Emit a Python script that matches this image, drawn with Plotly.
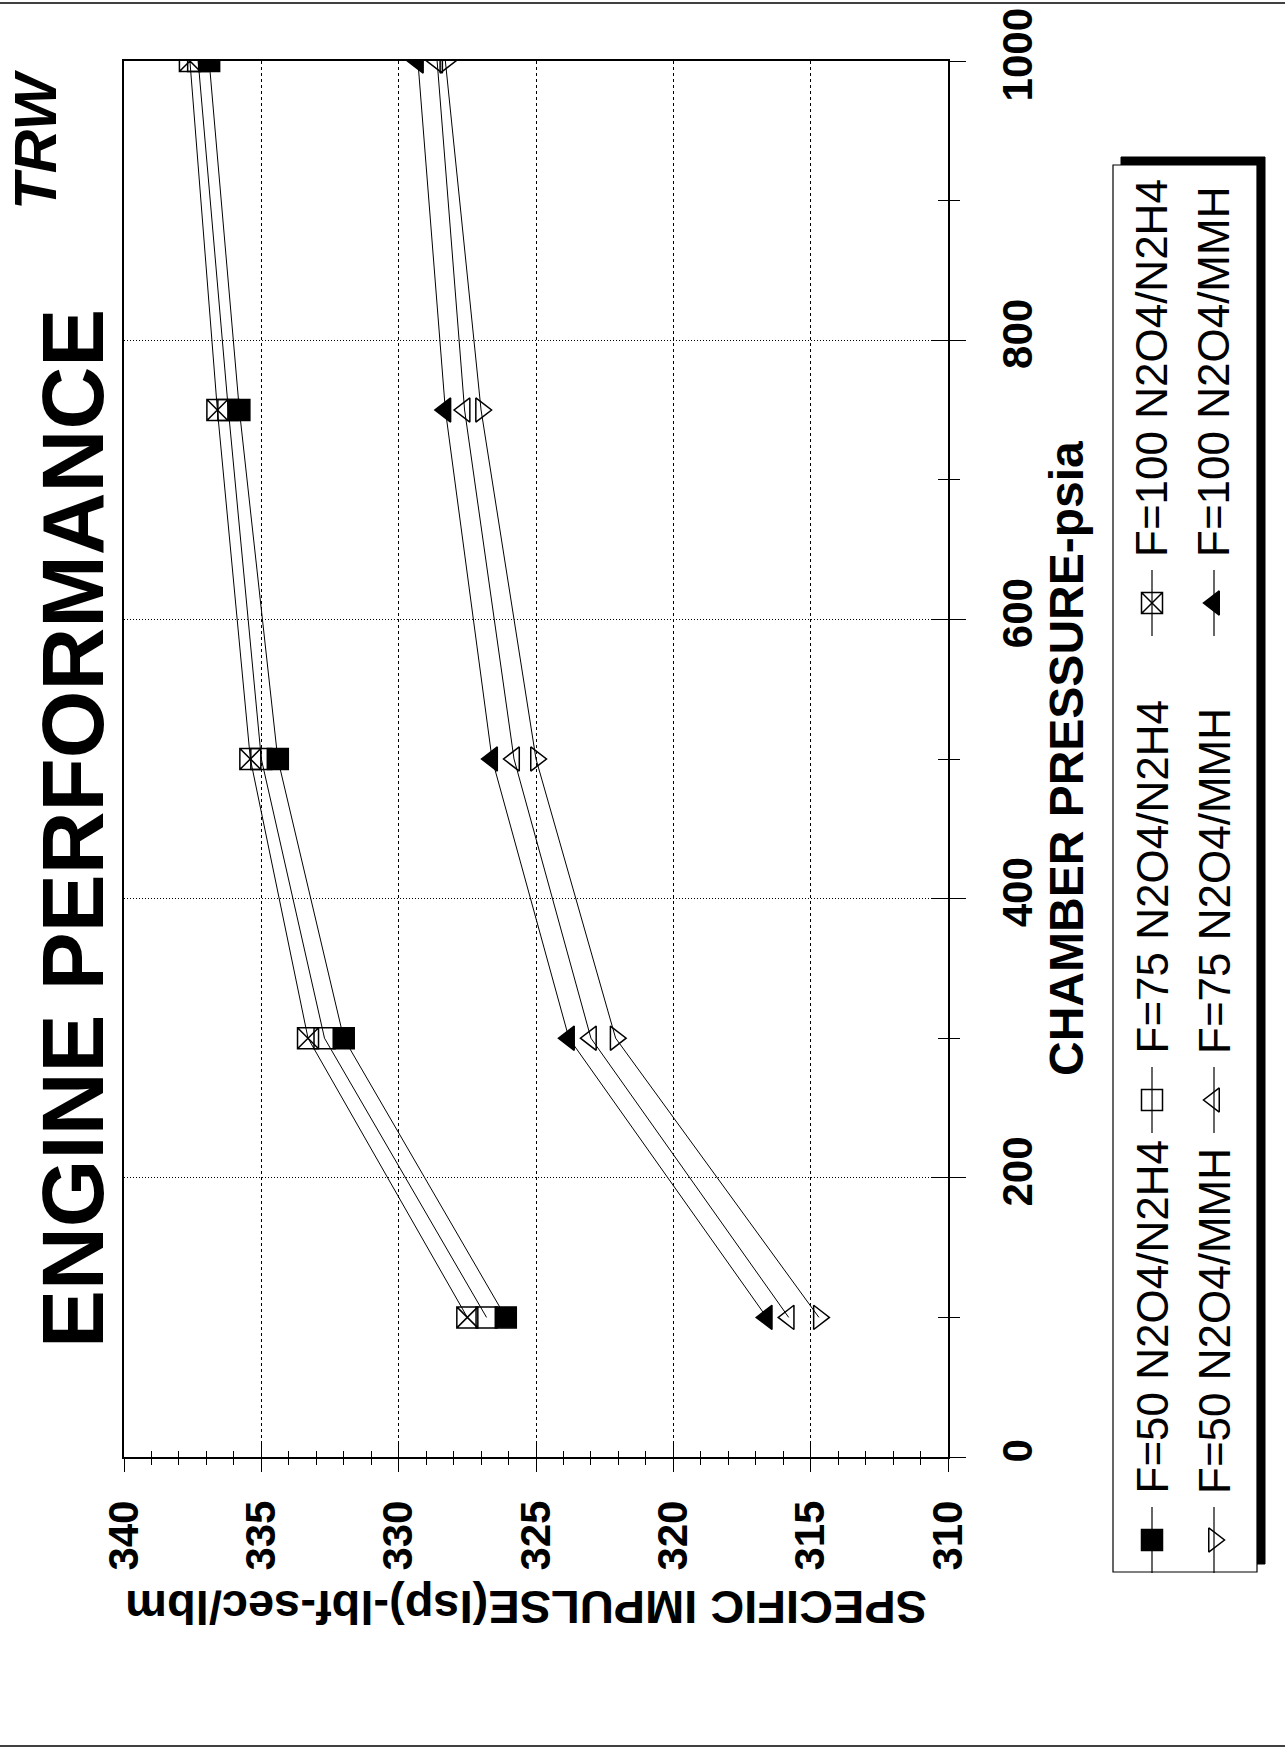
import plotly.graph_objects as go

# ---------------- data ----------------
pressure = [100, 300, 500, 750, 1000]  # chamber pressure, psia
isp_f50_n2h4 = [326.1, 332.0, 334.4, 335.8, 336.9]
isp_f75_n2h4 = [326.8, 332.7, 335.0, 336.2, 337.3]
isp_f100_n2h4 = [327.5, 333.3, 335.4, 336.6, 337.6]
isp_f50_mmh = [314.7, 322.1, 325.0, 327.0, 328.3]
isp_f75_mmh = [315.8, 323.0, 325.8, 327.6, 328.6]
isp_f100_mmh = [316.6, 323.8, 326.6, 328.3, 329.3]

series_names = ["F=50 N2O4/N2H4", "F=75 N2O4/N2H4", "F=100 N2O4/N2H4",
                "F=50 N2O4/MMH", "F=75 N2O4/MMH", "F=100 N2O4/MMH"]
series_values = [isp_f50_n2h4, isp_f75_n2h4, isp_f100_n2h4,
                 isp_f50_mmh, isp_f75_mmh, isp_f100_mmh]
# page is rotated 90 deg CCW, so the triangles rotate too
series_symbols = ["square", "square-open", "square-x-open",
                  "triangle-right-open", "triangle-left-open", "triangle-left"]

isp_ticks = [340, 335, 330, 325, 320, 315, 310]
pressure_ticks = [0, 200, 400, 600, 800, 1000]

# ---------------- layout constants (page pixels) ----------------
W, H = 1285, 1750
PL, PR, PT, PB = 124, 948, 61, 1457  # plot area on the page


def px(X):
    return X / W


def py(Y):
    return 1 - Y / H


FONT = "Liberation Sans, Arial, sans-serif"

fig = go.Figure()

for name, vals, sym in zip(series_names, series_values, series_symbols):
    fig.add_trace(go.Scatter(
        x=vals, y=pressure, mode="lines+markers", name=name,
        line=dict(color="black", width=1),
        marker=dict(symbol=sym, size=21, color="black",
                    line=dict(color="black", width=1.5)),
        showlegend=False, xaxis="x", yaxis="y"))

# empty traces so the overlay (crossing tick) axes exist
fig.add_trace(go.Scatter(x=[None], y=[None], xaxis="x3", yaxis="y", showlegend=False, hoverinfo="skip"))
fig.add_trace(go.Scatter(x=[None], y=[None], xaxis="x", yaxis="y3", showlegend=False, hoverinfo="skip"))

# legend samples drawn in a pixel-space overlay
leg_col_x = [1152, 1214]
leg_row_y = [1540, 1100, 603]
for i, (name, sym) in enumerate(zip(series_names, series_symbols)):
    cx = leg_col_x[i // 3]
    cy = leg_row_y[i % 3]
    fig.add_trace(go.Scatter(
        x=[cx, cx], y=[cy + 33, cy - 33], mode="lines",
        line=dict(color="black", width=1.2),
        showlegend=False, hoverinfo="skip", xaxis="x2", yaxis="y2"))
    fig.add_trace(go.Scatter(
        x=[cx], y=[cy], mode="markers",
        marker=dict(symbol=sym, size=21, color="black", opacity=1,
                    line=dict(color="black", width=1.5)),
        showlegend=False, hoverinfo="skip", xaxis="x2", yaxis="y2"))
    fig.add_annotation(text=name, x=px(cx), y=py(cy - 44), xref="paper", yref="paper",
                       xanchor="center", yanchor="bottom", textangle=-90, showarrow=False,
                       font=dict(family=FONT, size=44, color="black"))

xdom = [px(PL), px(PR)]
ydom = [py(PB), py(PT)]

tickfont = dict(family=FONT, size=42, color="black", weight="bold")

fig.update_layout(
    template="none",
    width=W, height=H, autosize=False,
    margin=dict(l=0, r=0, t=0, b=0, pad=0),
    paper_bgcolor="white", plot_bgcolor="rgba(0,0,0,0)",
    xaxis=dict(domain=xdom, range=[340, 310], anchor="y", side="bottom",
               tickvals=isp_ticks, tickangle=-90, tickfont=tickfont,
               ticks="outside", ticklen=13, tickwidth=1.2, tickcolor="black",
               ticklabelstandoff=12, automargin=False, ticklabeloverflow="allow",
               minor=dict(ticks="outside", ticklen=6, dtick=1, tick0=310,
                          tickcolor="black", tickwidth=1, showgrid=False),
               showgrid=True, gridcolor="black", gridwidth=1, griddash="3px,3px",
               showline=True, linecolor="black", linewidth=1.5, mirror=True,
               zeroline=False, fixedrange=True),
    yaxis=dict(domain=ydom, range=[0, 1000], anchor="x", side="right",
               tickvals=pressure_ticks, tickangle=-90, tickfont=tickfont,
               ticks="outside", ticklen=16, tickwidth=1.2, tickcolor="black",
               ticklabelstandoff=16, automargin=False, ticklabeloverflow="allow",
               minor=dict(ticks="outside", ticklen=10, dtick=100, tick0=0,
                          tickcolor="black", tickwidth=1, showgrid=False),
               showgrid=True, gridcolor="black", gridwidth=1, griddash="1px,2px",
               showline=True, linecolor="black", linewidth=1.5, mirror=True,
               zeroline=False, fixedrange=True),
    xaxis3=dict(overlaying="x", range=[340, 310], anchor="y", side="bottom",
                tickvals=isp_ticks, showticklabels=False, automargin=False,
                ticks="inside", ticklen=13, tickwidth=1.2, tickcolor="black",
                minor=dict(ticks="inside", ticklen=6, dtick=1, tick0=310,
                           tickcolor="black", tickwidth=1, showgrid=False),
                showgrid=False, showline=False, zeroline=False, fixedrange=True),
    yaxis3=dict(overlaying="y", range=[0, 1000], anchor="x", side="right",
                tickvals=pressure_ticks, showticklabels=False, automargin=False,
                ticks="inside", ticklen=16, tickwidth=1.2, tickcolor="black",
                minor=dict(ticks="inside", ticklen=10, dtick=100, tick0=0,
                           tickcolor="black", tickwidth=1, showgrid=False),
                showgrid=False, showline=False, zeroline=False, fixedrange=True),
    xaxis2=dict(domain=[0, 1], range=[0, W], anchor="y2", visible=False,
                fixedrange=True, automargin=False),
    yaxis2=dict(domain=[0, 1], range=[H, 0], anchor="x2", visible=False,
                fixedrange=True, automargin=False),
    showlegend=False,
)

# legend box with shadow (shadow up/right because page is rotated)
fig.add_shape(type="rect", xref="paper", yref="paper", layer="below",
              x0=px(1121), x1=px(1265), y0=py(1564), y1=py(157),
              fillcolor="black", line=dict(color="black", width=1))
fig.add_shape(type="rect", xref="paper", yref="paper", layer="below",
              x0=px(1113), x1=px(1257), y0=py(1572), y1=py(165),
              fillcolor="white", line=dict(color="black", width=1.2))

# page border lines
fig.add_shape(type="line", xref="paper", yref="paper", x0=0, x1=1, y0=py(3), y1=py(3),
              line=dict(color="black", width=1.5))
fig.add_shape(type="line", xref="paper", yref="paper", x0=0, x1=1, y0=py(1746), y1=py(1746),
              line=dict(color="black", width=1.5))

# titles
fig.add_annotation(text="ENGINE PERFORMANCE", x=px(72), y=py(829), xref="paper", yref="paper",
                   xanchor="center", yanchor="middle", textangle=-90, showarrow=False,
                   font=dict(family=FONT, size=87, color="black", weight="bold"))
fig.add_annotation(text="<i>TRW</i>", x=px(36), y=py(140), xref="paper", yref="paper",
                   xanchor="center", yanchor="middle", textangle=-90, showarrow=False,
                   font=dict(family=FONT, size=60, color="black", weight="bold"))
fig.add_annotation(text="CHAMBER PRESSURE-psia", x=px(1066), y=py(759), xref="paper", yref="paper",
                   xanchor="center", yanchor="middle", textangle=-90, showarrow=False,
                   font=dict(family=FONT, size=48, color="black", weight="bold"))
fig.add_annotation(text="SPECIFIC IMPULSE(Isp)-lbf-sec/lbm", x=px(526), y=py(1608),
                   xref="paper", yref="paper",
                   xanchor="center", yanchor="middle", textangle=180, showarrow=False,
                   font=dict(family=FONT, size=47, color="black", weight="bold"))

# remove the default body margin so figure pixels equal page pixels
fig.write_html("out.html", config={"displayModeBar": False},
               post_script="document.body.style.margin='0px';")
